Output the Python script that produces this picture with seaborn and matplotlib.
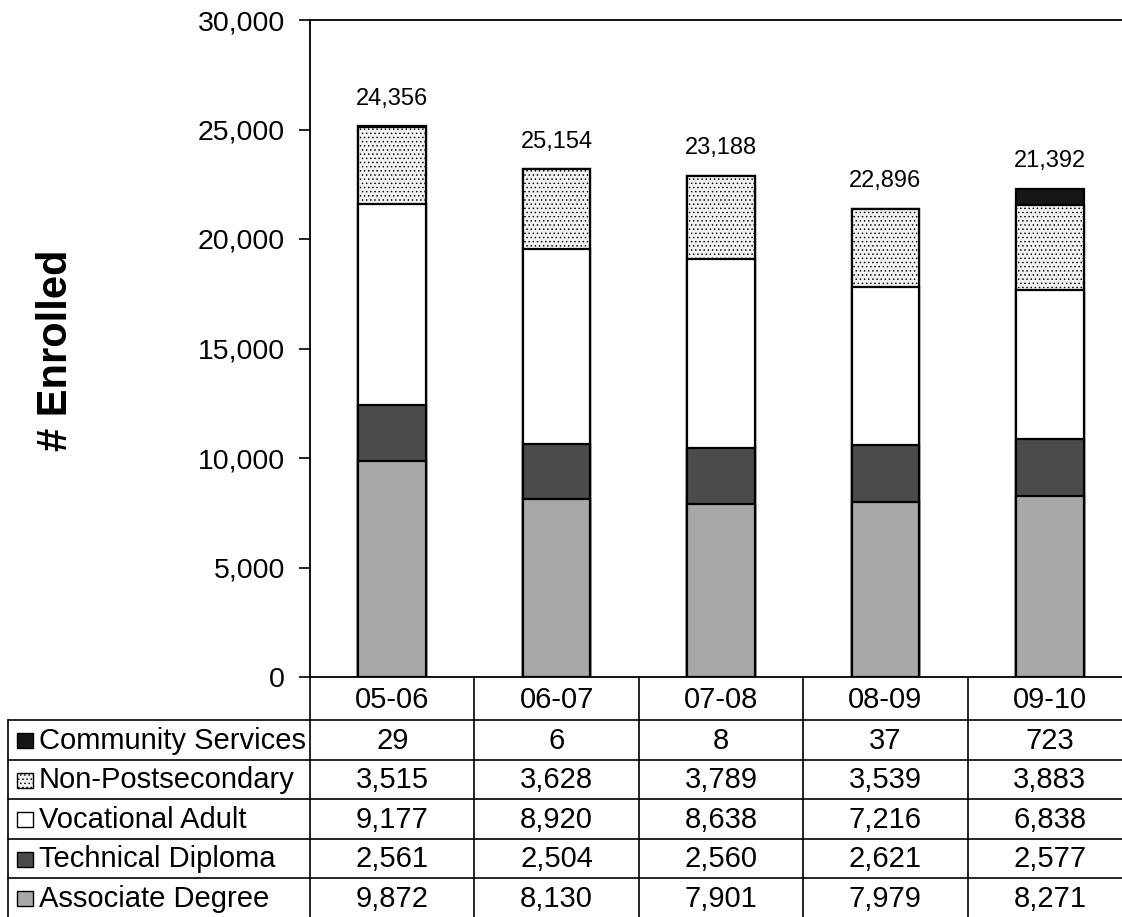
import matplotlib
matplotlib.use("Agg")
import matplotlib.pyplot as plt
import seaborn as sns
import pandas as pd
import numpy as np
from matplotlib.ticker import FuncFormatter, MultipleLocator
from matplotlib.patches import Rectangle

# ---- data -------------------------------------------------------------
years = ["05-06", "06-07", "07-08", "08-09", "09-10"]
associate = [9872, 8130, 7901, 7979, 8271]
technical = [2561, 2504, 2560, 2621, 2577]
vocational = [9177, 8920, 8638, 7216, 6838]
non_post = [3515, 3628, 3789, 3539, 3883]
community = [29, 6, 8, 37, 723]
total_labels = [24356, 25154, 23188, 22896, 21392]

# stacking order, bottom to top: (name, values, fill, hatch)
series = [
    ("Associate Degree", associate, "#a8a8a8", None),
    ("Technical Diploma", technical, "#4b4b4b", None),
    ("Vocational Adult", vocational, "#ffffff", None),
    ("Non-Postsecondary", non_post, "#f2f2f2", "...."),
    ("Community Services", community, "#161616", None),
]

# ---- style ------------------------------------------------------------
sns.set_theme(style="white")
plt.rcParams["font.family"] = ["Liberation Sans", "DejaVu Sans"]
plt.rcParams["hatch.linewidth"] = 0.55

W, H = 1122, 917
fig = plt.figure(figsize=(W / 100, H / 100), dpi=100)

# plot area in pixels
ax_left, ax_right, ax_top, ax_bottom = 310, 1132, 20, 677
ax = fig.add_axes([ax_left / W, 1 - ax_bottom / H,
                   (ax_right - ax_left) / W, (ax_bottom - ax_top) / H])

# stacked bars: draw cumulative totals from the top layer down
cum = np.cumsum(np.array([s[1] for s in series], dtype=float), axis=0)
for k in range(len(series) - 1, -1, -1):
    name, vals, col, hatch = series[k]
    df = pd.DataFrame({"year": years, "value": cum[k]})
    sns.barplot(data=df, x="year", y="value", order=years, color=col,
                saturation=1, width=0.41, edgecolor="black", linewidth=1.6,
                errorbar=None, hatch=hatch, ax=ax)

# total labels above bars
for i, lab in enumerate(total_labels):
    ax.text(i, cum[-1][i] + 750, f"{lab:,}", ha="center", va="bottom",
            fontsize=17, color="black")

ax.set_xlim(-0.5, len(years) - 0.5)
ax.set_ylim(0, 30000)
ax.yaxis.set_major_locator(MultipleLocator(5000))
ax.yaxis.set_major_formatter(FuncFormatter(lambda v, p: f"{v:,.0f}"))
ax.set_xticks([])
ax.set_xlabel("")
ax.set_ylabel("")
ax.tick_params(axis="y", left=True, length=8, width=1.2, labelsize=20.5,
               pad=10, colors="black", direction="out")
for side in ["left", "top", "bottom"]:
    ax.spines[side].set_visible(True)
    ax.spines[side].set_color("black")
    ax.spines[side].set_linewidth(1.3)
ax.spines["right"].set_visible(False)

fig.text(56 / W, 1 - 350 / H, "# Enrolled", rotation=90, ha="center",
         va="center", fontsize=30, fontweight="bold", color="black")

# ---- data table below the chart --------------------------------------
tab = fig.add_axes([0, 0, 1, 1])
tab.set_xlim(0, W)
tab.set_ylim(H, 0)
tab.axis("off")
tab.patch.set_visible(False)

n = len(years)
colw = (ax_right - ax_left) / n
col_edges = [ax_left + i * colw for i in range(n + 1)]
header_bottom = 720
row_h = 39.5
rows = list(reversed(series))  # top row is the top stack layer
row_edges = [header_bottom + r * row_h for r in range(len(rows) + 1)]
table_left = 8
lw = 1.2

# horizontal rules
tab.plot([table_left, W], [header_bottom, header_bottom], color="black", lw=lw)
for y in row_edges[1:]:
    tab.plot([table_left, W], [y, y], color="black", lw=lw)
# vertical rules
for x in col_edges:
    tab.plot([x, x], [ax_bottom, H], color="black", lw=lw)
tab.plot([table_left, table_left], [header_bottom, H], color="black", lw=lw)

fs = 21
# year header
for i, yr in enumerate(years):
    tab.text(col_edges[i] + colw / 2, (ax_bottom + header_bottom) / 2 + 1, yr,
             ha="center", va="center", fontsize=fs, color="black")

# rows with legend keys and values
for r, (name, vals, col, hatch) in enumerate(rows):
    yc = row_edges[r] + row_h / 2 + 1
    tab.add_patch(Rectangle((17, yc - 7.5), 16, 15, facecolor=col,
                            edgecolor="black", lw=1.0, hatch=hatch))
    tab.text(39, yc, name, ha="left", va="center", fontsize=fs,
             color="black")
    for i, v in enumerate(vals):
        tab.text(col_edges[i] + colw / 2, yc, f"{v:,}", ha="center",
                 va="center", fontsize=fs, color="black")

fig.savefig("out.png", dpi=100, facecolor="white")
